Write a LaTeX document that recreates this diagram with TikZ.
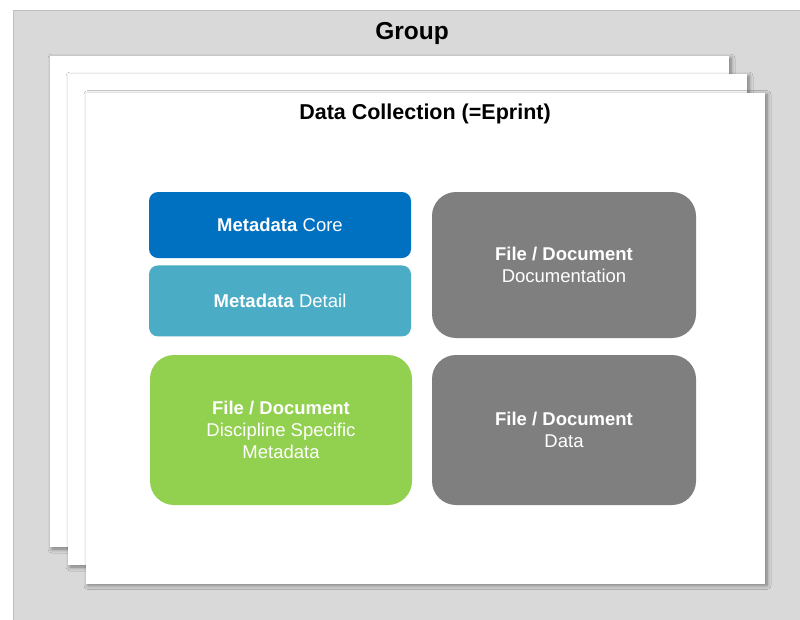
\documentclass[tikz,border=0pt]{standalone}
\usepackage{fontspec}
\setmainfont{Liberation Sans}
\usetikzlibrary{positioning,shadows.blur}
\definecolor{grpgray}{HTML}{D9D9D9}
\definecolor{grpline}{HTML}{BFBFBF}
\definecolor{mdcore}{HTML}{0070C0}
\definecolor{mddetail}{HTML}{4BACC6}
\definecolor{filegray}{HTML}{7F7F7F}
\definecolor{filegreen}{HTML}{92D050}
\tikzset{
  page/.style={draw=none,fill=white,minimum width=679pt,minimum height=491pt,inner sep=0pt,
    blur shadow={shadow xshift=2pt,shadow yshift=-2pt,shadow blur radius=4pt,shadow blur steps=6,shadow opacity=45}},
  mdbox/.style={rounded corners=9pt,align=center,text=white,inner sep=0pt,minimum width=262pt,
    font=\fontsize{18.5}{22}\selectfont},
  filebox/.style={rounded corners=24pt,align=center,text=white,inner sep=0pt,minimum width=264pt,
    minimum height=146pt,font=\fontsize{18.5}{22}\selectfont},
  ttl/.style={font=\bfseries\fontsize{24.5}{28}\selectfont,inner sep=0pt},
}

\begin{document}
\begin{tikzpicture}[x=1pt,y=-1pt]
    \useasboundingbox[fill=white] (0,0) rectangle (800,619);
    \fill[grpgray,draw=grpline] (13,10) rectangle (810,630);
    \node[ttl] (group) at (412,33) {Group};
    \node[page] (page1) at (389.5,301.5) {};
    \node[page] (page2) at (407.5,319.5) {};
    \node[page] (page3) at (425.5,338) {};
    \node[ttl,font=\bfseries\fontsize{21.5}{26}\selectfont] (coll) at (425,113.5) {Data Collection (=Eprint)};
    \node[mdbox,fill=mdcore,minimum height=66pt] (core) at (280,225) {\textbf{Metadata} Core};
    \node[mdbox,fill=mddetail,minimum height=71pt,below=7pt of core] (detail) {\textbf{Metadata} Detail};
    \node[filebox,fill=filegray] (docu) at (564,265) {\textbf{File / Document}\\Documentation};
    \node[filebox,fill=filegreen,minimum width=262pt,minimum height=150pt] (disc) at (281,430) {\textbf{File / Document}\\Discipline Specific\\Metadata};
    \node[filebox,fill=filegray,minimum height=150pt] (data) at (564,430) {\textbf{File / Document}\\Data};
\end{tikzpicture}
\end{document}
